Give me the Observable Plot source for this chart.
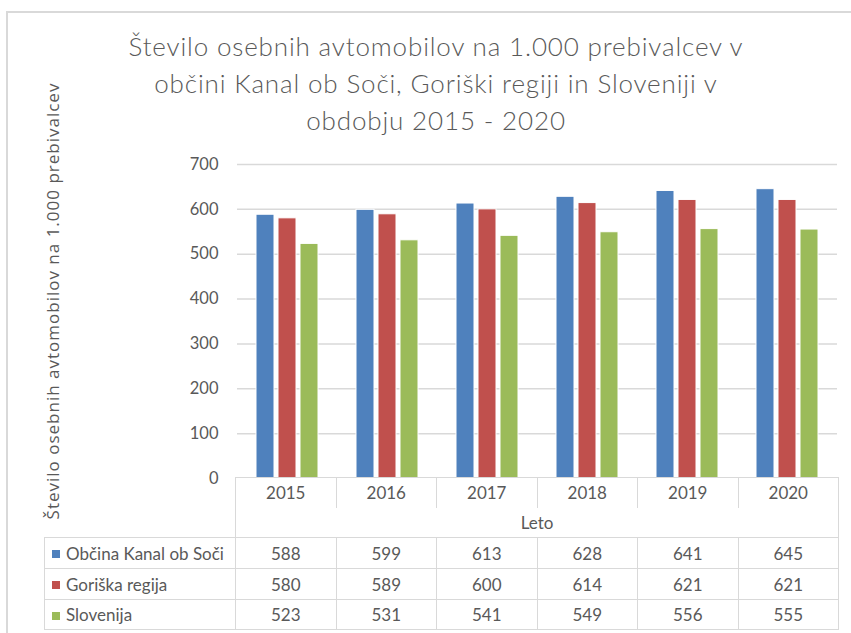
<!DOCTYPE html>
<html><head><meta charset="utf-8">
<script src="https://cdn.jsdelivr.net/npm/d3@7"></script>
<script src="https://cdn.jsdelivr.net/npm/@observablehq/plot@0.6"></script>
<style>
body{margin:0;width:851px;height:633px;overflow:hidden;background:#fff;position:relative;font-family:Lato,sans-serif;color:#595959;}
#frame{position:absolute;left:6px;top:11px;width:900px;height:700px;border:2px solid #d9d9d9;}
#title{position:absolute;left:0;width:872px;top:28px;text-align:center;font-size:26px;font-weight:300;letter-spacing:0.85px;line-height:37px;color:#595959;}
#ytitle{position:absolute;left:52px;top:301px;transform:translate(-50%,-50%) rotate(-90deg);white-space:nowrap;font-family:"Open Sans",sans-serif;font-size:17px;letter-spacing:1px;color:#595959;}
#chart{position:absolute;left:0;top:150px;}
#tbl{position:absolute;left:44px;top:477px;border-collapse:collapse;table-layout:fixed;font-size:17px;color:#595959;}
#tbl td{padding:0;text-align:center;vertical-align:middle;white-space:nowrap;}
#tbl td.b{border:1.5px solid #d9d9d9;}
#tbl td.leg{text-align:left;padding-left:7px;}
.sw{display:inline-block;width:8px;height:8px;margin-right:6px;vertical-align:middle;position:relative;top:-1px;}
</style></head>
<body>
<div id="frame"></div>
<div id="title">Število osebnih avtomobilov na 1.000 prebivalcev v<br>občini Kanal ob Soči, Goriški regiji in Sloveniji v<br>obdobju 2015 - 2020</div>
<div id="ytitle">Število osebnih avtomobilov na 1.000 prebivalcev</div>
<div id="chart"></div>
<table id="tbl"></table>
<script>
const years = ["2015","2016","2017","2018","2019","2020"];
const series = ["Občina Kanal ob Soči","Goriška regija","Slovenija"];
const kanal = [588,599,613,628,641,645];
const goriska = [580,589,600,614,621,621];
const slovenija = [523,531,541,549,556,555];
const colors = ["#4f81bd","#c0504d","#9bbb59"];
const yTicks = [0,100,200,300,400,500,600,700];
const xTitle = "Leto";

const values = [kanal, goriska, slovenija];
const data = years.flatMap((yr,i)=>series.map((s,j)=>({year:yr, series:s, value:values[j][i]})));

const chart = Plot.plot({
  width:851, height:345,
  marginLeft:235, marginRight:13, marginTop:14, marginBottom:17,
  fx:{domain:years, padding:0, axis:null},
  x:{domain:series, paddingInner:0.17, paddingOuter:0.85, axis:null},
  y:{domain:[0,700]},
  color:{domain:series, range:colors},
  style:{fontFamily:"Lato, sans-serif", fontSize:"16px", color:"#595959", background:"transparent", overflow:"visible"},
  marks:[
    Plot.gridY(yTicks,{stroke:"#d9d9d9", strokeOpacity:1, strokeWidth:1.5}),
    Plot.axisY(yTicks,{tickSize:0, tickPadding:19, fontSize:16.5, fill:"#595959", label:null}),
    Plot.barY(data,{fx:"year", x:"series", y:"value", fill:"series", stroke:"white", strokeWidth:1})
  ]
});
document.getElementById("chart").appendChild(chart);

// data table
const tbl = document.getElementById("tbl");
const cg = document.createElement("colgroup");
[191,100.5,100.5,100.5,100.5,100.5,100.5].forEach(w=>{const c=document.createElement("col");c.style.width=w+"px";cg.appendChild(c);});
tbl.appendChild(cg);
let tr = document.createElement("tr"); tr.style.height="30px";
tr.appendChild(document.createElement("td"));
years.forEach(yr=>{const td=document.createElement("td");td.textContent=yr;td.style.borderLeft=td.style.borderRight=td.style.borderTop="1.5px solid #d9d9d9";td.style.background="#fff";tr.appendChild(td);});
tbl.appendChild(tr);
tr = document.createElement("tr"); tr.style.height="30px";
tr.appendChild(document.createElement("td"));
let td=document.createElement("td");td.colSpan=6;td.textContent=xTitle;td.style.background="#fff";td.style.borderLeft=td.style.borderRight=td.style.borderBottom="1.5px solid #d9d9d9";tr.appendChild(td);
tbl.appendChild(tr);
series.forEach((s,j)=>{
  const r=document.createElement("tr"); r.style.height=(j<2?31:30)+"px";
  const l=document.createElement("td"); l.className="b leg";
  const sw=document.createElement("span"); sw.className="sw"; sw.style.background=colors[j];
  l.appendChild(sw); l.appendChild(document.createTextNode(s)); r.appendChild(l);
  values[j].forEach(v=>{const c=document.createElement("td");c.className="b";c.textContent=v;r.appendChild(c);});
  tbl.appendChild(r);
});
</script>
</body></html>
